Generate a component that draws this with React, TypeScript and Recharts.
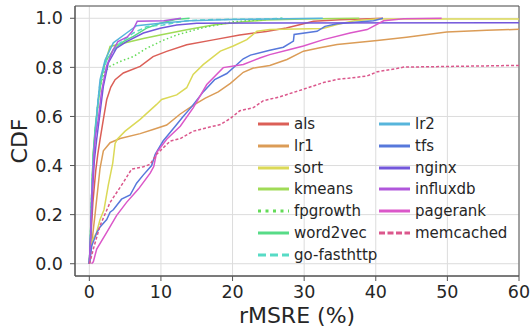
import { LineChart, Line, XAxis, YAxis, CartesianGrid, ReferenceArea } from 'recharts'

type Pt = [number, number]

const X_TICKS = [0, 10, 20, 30, 40, 50, 60]
const Y_TICKS = [0, 0.2, 0.4, 0.6, 0.8, 1.0]

// [rMSRE %, CDF]
const als: Pt[] = [[0, 0], [0.2, 0.1], [0.5, 0.25], [0.9, 0.38], [1.2, 0.45], [1.5, 0.507], [1.96, 0.588], [2.43, 0.669], [3.0, 0.72], [3.6, 0.75], [4.75, 0.777], [7.1, 0.804], [8.9, 0.844], [10.8, 0.865], [13.6, 0.892], [17.3, 0.912], [21, 0.932], [24.7, 0.946], [27.5, 0.96], [29.5, 0.975], [31.3, 0.988], [35, 0.994], [39.2, 0.998], [41, 1.0]]
const lr1: Pt[] = [[0, 0], [0.3, 0.07], [0.6, 0.15], [0.8, 0.2], [1.03, 0.263], [1.5, 0.39], [1.96, 0.46], [2.9, 0.493], [4.3, 0.51], [7.1, 0.53], [8.9, 0.547], [10.8, 0.565], [12.7, 0.61], [14.5, 0.645], [16.2, 0.675], [18, 0.7], [19.7, 0.735], [21.5, 0.78], [22.9, 0.797], [25.2, 0.808], [27.6, 0.832], [29.9, 0.866], [32.2, 0.88], [34.6, 0.893], [40.2, 0.909], [44.3, 0.923], [49.9, 0.944], [55.5, 0.951], [60, 0.955]]
const sort: Pt[] = [[0, 0], [0.2, 0.085], [1.0, 0.126], [1.5, 0.18], [2.05, 0.22], [2.65, 0.32], [3.27, 0.41], [3.6, 0.49], [3.9, 0.507], [5, 0.54], [7.1, 0.588], [9.4, 0.649], [10.1, 0.669], [12.2, 0.688], [13.6, 0.717], [14.5, 0.771], [15.9, 0.811], [18.3, 0.866], [20.1, 0.887], [22, 0.913], [23.4, 0.947], [25.2, 0.954], [32.6, 0.958], [34.6, 0.975], [37, 0.99], [40, 0.997], [60, 0.997]]
const kmeans: Pt[] = [[0, 0], [0.15, 0.1], [0.35, 0.3], [0.55, 0.45], [0.85, 0.55], [1.25, 0.66], [1.7, 0.76], [2.2, 0.82], [2.9, 0.885], [4.75, 0.898], [7.55, 0.918], [9.9, 0.932], [13.6, 0.953], [17.3, 0.973], [21.5, 0.986], [24.7, 0.993], [30, 0.997], [37.7, 1.0]]
const fpgrowth: Pt[] = [[0, 0], [0.15, 0.1], [0.35, 0.3], [0.6, 0.45], [0.9, 0.56], [1.2, 0.65], [1.5, 0.723], [2.1, 0.78], [2.9, 0.805], [4.3, 0.824], [6.15, 0.844], [8, 0.878], [10.3, 0.91], [12.2, 0.932], [15.5, 0.959], [20.1, 0.986], [24.7, 0.995], [27, 1.0]]
const word2vec: Pt[] = [[0, 0], [0.15, 0.1], [0.35, 0.3], [0.55, 0.45], [0.8, 0.55], [1.26, 0.67], [1.73, 0.76], [2.2, 0.82], [3.35, 0.872], [4.75, 0.905], [6.15, 0.926], [8, 0.96], [9.9, 0.98], [12, 0.995], [14, 1.0]]
const goFasthttp: Pt[] = [[0, 0], [0.15, 0.1], [0.35, 0.3], [0.6, 0.45], [0.9, 0.56], [1.2, 0.66], [1.5, 0.738], [2.43, 0.83], [4.3, 0.9], [6.15, 0.94], [8, 0.966], [10.3, 0.973], [13.6, 0.99], [17.3, 0.995], [24.7, 0.997], [27, 1.0]]
const lr2: Pt[] = [[0, 0], [0.15, 0.1], [0.35, 0.3], [0.6, 0.45], [0.9, 0.56], [1.2, 0.66], [1.5, 0.75], [2.2, 0.83], [3.35, 0.9], [5.2, 0.94], [6.6, 0.97], [9.9, 0.98], [14, 0.99], [20, 0.995], [32.6, 1.0]]
const tfs: Pt[] = [[0, 0], [0.2, 0.04], [0.33, 0.072], [1.03, 0.126], [1.5, 0.15], [2.43, 0.18], [2.9, 0.21], [3.35, 0.22], [4.5, 0.263], [5.7, 0.28], [6.6, 0.328], [7.55, 0.362], [8.7, 0.4], [9.2, 0.446], [10.3, 0.5], [12, 0.56], [13.1, 0.6], [14.3, 0.64], [15.9, 0.7], [17.5, 0.75], [19.2, 0.775], [21.5, 0.835], [22.5, 0.85], [25.2, 0.87], [27.1, 0.882], [28.5, 0.907], [28.6, 0.934], [31.8, 0.947], [32.9, 0.967], [34.6, 0.978], [39.7, 0.99], [41, 1.0]]
const nginx: Pt[] = [[0, 0], [0.2, 0.12], [0.45, 0.3], [0.7, 0.42], [1.03, 0.507], [1.5, 0.615], [1.96, 0.723], [2.65, 0.818], [3.8, 0.878], [5.2, 0.905], [7.55, 0.94], [9.9, 0.959], [12.2, 0.973], [15, 0.98], [60, 0.982]]
const influxdb: Pt[] = [[0, 0], [0.2, 0.12], [0.4, 0.3], [0.6, 0.42], [0.8, 0.51], [1.26, 0.59], [1.7, 0.7], [2.4, 0.805], [3.3, 0.87], [4, 0.905], [5.3, 0.924], [6, 0.947], [6.7, 0.988], [10.4, 0.99], [12.8, 1.0]]
const pagerank: Pt[] = [[0.3, 0], [0.56, 0.008], [1.03, 0.06], [2.43, 0.128], [3.8, 0.196], [5.2, 0.25], [6.85, 0.304], [8.5, 0.369], [9.0, 0.396], [9.4, 0.453], [10.8, 0.507], [12.7, 0.56], [14.5, 0.635], [16.4, 0.73], [18.7, 0.799], [21.5, 0.812], [23.9, 0.839], [25.2, 0.852], [28, 0.873], [29.9, 0.887], [32.7, 0.913], [36.4, 0.94], [38.8, 0.954], [41.1, 0.99], [43.9, 0.998], [49.2, 1.0]]
const memcached: Pt[] = [[0, 0], [0.1, 0.008], [0.56, 0.06], [1.5, 0.155], [2.9, 0.25], [4.75, 0.331], [5.9, 0.385], [7.55, 0.395], [8.5, 0.405], [9.4, 0.446], [11.3, 0.5], [12.7, 0.51], [14.5, 0.54], [16.4, 0.554], [18.3, 0.567], [19.7, 0.592], [21, 0.623], [22.9, 0.636], [24.3, 0.664], [26.6, 0.68], [29.9, 0.711], [32.7, 0.738], [34.6, 0.751], [36, 0.755], [38.8, 0.765], [40.2, 0.782], [42.9, 0.795], [43.9, 0.801], [60, 0.808]]

const SERIES = [
  { name: 'als',         pts: als,        color: '#db5f57' },
  { name: 'lr1',         pts: lr1,        color: '#db9c57' },
  { name: 'sort',        pts: sort,       color: '#dbd957' },
  { name: 'kmeans',      pts: kmeans,     color: '#a0db57' },
  { name: 'fpgrowth',    pts: fpgrowth,   color: '#63db57', dash: '1.5 2.5', legendDash: '3 4.5' },
  { name: 'word2vec',    pts: word2vec,   color: '#57db87' },
  { name: 'go-fasthttp', pts: goFasthttp, color: '#57dbc5', dash: '5 3', legendDash: '8 4' },
  { name: 'lr2',         pts: lr2,        color: '#57b5db' },
  { name: 'tfs',         pts: tfs,        color: '#5778db' },
  { name: 'nginx',       pts: nginx,      color: '#7357db' },
  { name: 'influxdb',    pts: influxdb,   color: '#b057db' },
  { name: 'pagerank',    pts: pagerank,   color: '#db57c9' },
  { name: 'memcached',   pts: memcached,  color: '#db578c', dash: '3 2', legendDash: '6 2.5' },
]

const FONT = '"DejaVu Sans", sans-serif'
const INK = '#262626'
const tickStyle = { fontSize: 17.5, fill: INK, fontFamily: FONT }

function LegendBox() {
  return (
    <div style={{ position: 'absolute', left: 0, top: 0, fontFamily: FONT, fontSize: 15, color: INK }}>
      {SERIES.map((s, i) => {
        const col = i < 7 ? 0 : 1
        const row = col === 0 ? i : i - 7
        const left = col === 0 ? 258 : 379
        const top = 124 + row * 21.8
        return (
          <div key={s.name} style={{ position: 'absolute', left, top: top - 10, height: 20, display: 'flex', alignItems: 'center', whiteSpace: 'nowrap' }}>
            <svg width={31} height={6} style={{ marginRight: 5 }}>
              <line x1={0} y1={3} x2={31} y2={3} stroke={s.color} strokeWidth={3} strokeDasharray={s.legendDash} />
            </svg>
            <span>{s.name}</span>
          </div>
        )
      })}
    </div>
  )
}

export default function App() {
  return (
    <div style={{ position: 'absolute', left: 0, top: 0, width: 532, height: 328, background: '#fff' }}>
      <LineChart width={532} height={328} margin={{ top: 6, right: 13, bottom: 0, left: 0 }}>
        <CartesianGrid stroke="#dcdcdc" strokeWidth={1} />
        <XAxis
          dataKey="x"
          type="number"
          domain={[-2, 60]}
          ticks={X_TICKS}
          allowDataOverflow
          height={52}
          tick={tickStyle}
          tickSize={5}
          tickMargin={5}
          stroke="#555"
        />
        <YAxis
          type="number"
          domain={[-0.05, 1.05]}
          ticks={Y_TICKS}
          allowDataOverflow
          width={75}
          tick={tickStyle}
          tickSize={5}
          tickMargin={7}
          tickFormatter={(v: number) => v.toFixed(1)}
          stroke="#555"
        />
        <ReferenceArea x1={-2} x2={60} y1={-0.05} y2={1.05} fill="none" fillOpacity={0} stroke="#555" strokeWidth={1} />
        {SERIES.map((s) => (
          <Line
            key={s.name}
            data={s.pts.map(([x, y]) => ({ x, y }))}
            dataKey="y"
            type="linear"
            stroke={s.color}
            strokeWidth={1.5}
            strokeDasharray={s.dash}
            dot={false}
            activeDot={false}
            isAnimationActive={false}
          />
        ))}
      </LineChart>
      <div style={{ position: 'absolute', left: 18.5, top: 141, transform: 'translate(-50%, -50%) rotate(-90deg)', fontFamily: FONT, fontSize: 22, color: INK, whiteSpace: 'nowrap' }}>
        CDF
      </div>
      <div style={{ position: 'absolute', left: 297, top: 315, transform: 'translate(-50%, -50%)', fontFamily: FONT, fontSize: 22, color: INK, whiteSpace: 'nowrap' }}>
        rMSRE (%)
      </div>
      <LegendBox />
    </div>
  )
}
